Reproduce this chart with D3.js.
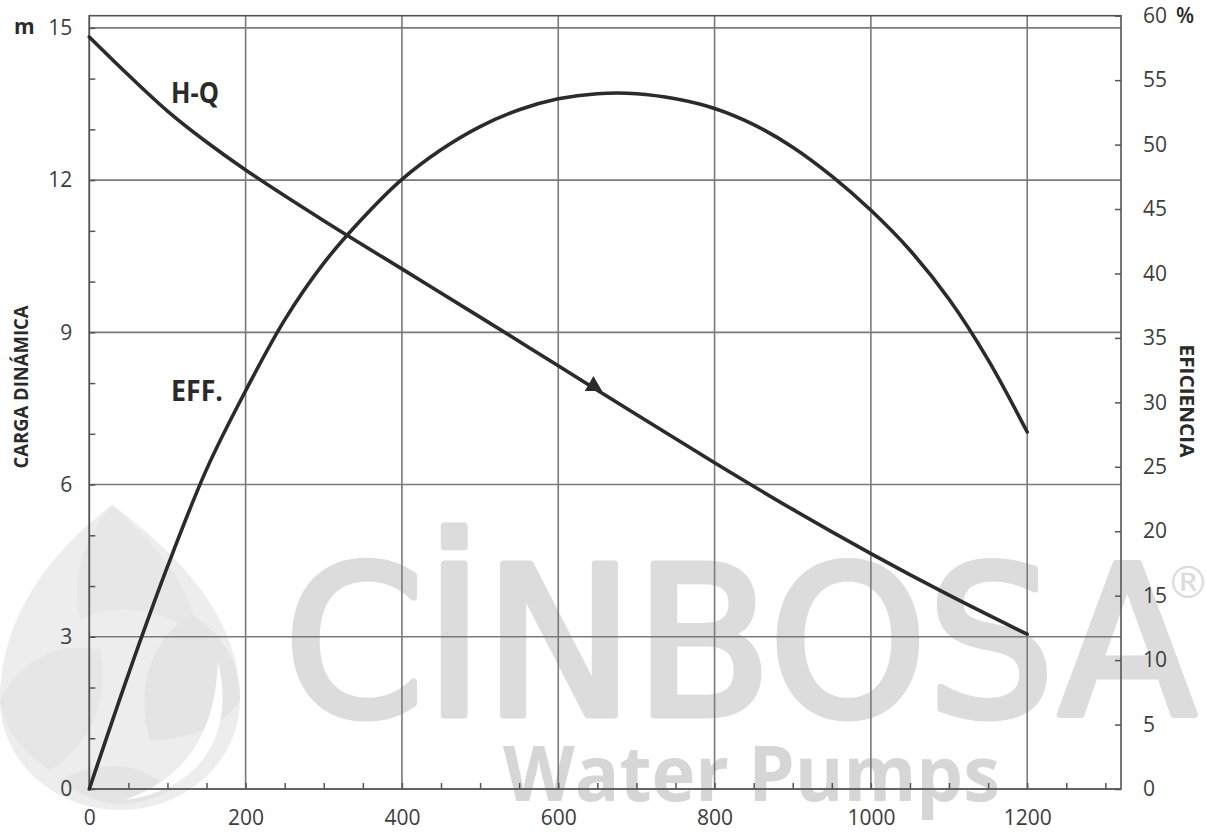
<!DOCTYPE html>
<html>
<head>
<meta charset="utf-8">
<script src="https://cdn.jsdelivr.net/npm/d3@7"></script>
<style>
  html, body { margin: 0; padding: 0; background: #ffffff; }
  svg { display: block; }
</style>
</head>
<body>
<svg id="chart" width="1206" height="834"></svg>
<script>
// ---------- data ----------
const flowHQ = [0,50,100,150,200,300,400,500,600,700,800,900,1000,1100,1200];
const head = [14.82,14.07,13.36,12.75,12.20,11.20,10.25,9.30,8.34,7.38,6.43,5.51,4.64,3.82,3.05];
const flowEff = [0,50,100,150,200,250,300,350,400,450,500,550,600,650,700,750,800,850,900,950,1000,1050,1100,1150,1200];
const efficiency = [0,8.9,17.25,24.8,30.9,36.4,40.8,44.3,47.3,49.6,51.4,52.7,53.55,53.95,53.95,53.55,52.8,51.55,49.8,47.55,44.9,41.8,38.0,33.3,27.7];
const bepFlow = [645];
const bepHead = [7.94];
const flowLabels = [0,200,400,600,800,1000,1200];
const headLabels = [0,3,6,9,12,15];
const effLabels = [0,5,10,15,20,25,30,35,40,45,50,55,60];
const headTitle = "CARGA DINÁMICA";
const effTitle = "EFICIENCIA";
const headUnit = "m";
const effUnit = "%";
const curveLabels = ["H-Q", "EFF."];

// ---------- layout ----------
const L = 89.3, R = 1121, T = 15.7, B = 789;
const svg = d3.select("#chart");

const x = d3.scaleLinear().domain([0, 1320]).range([L, R]);
const yL = d3.scaleLinear().domain([0, 15.24]).range([B, T]);
const yR = d3.scaleLinear().domain([0, 60]).range([B, T]);

// ---------- watermark ----------
const wm = svg.append("g").attr("class", "watermark");
const logo = wm.append("g");
logo.append("path")
  .attr("d", "M112,505 C170,548 240,612 240,700 A120,110 0 0 1 0,700 C0,612 56,548 112,505 Z")
  .attr("fill", "#ededed");
logo.append("path")
  .attr("d", "M112,505 C150,540 190,580 200,640 C170,610 120,600 80,620 C70,580 85,535 112,505 Z")
  .attr("fill", "#e7e7e7");
logo.append("path")
  .attr("d", "M240,700 C240,660 220,630 190,615 C150,640 135,690 150,740 C190,740 225,725 240,700 Z")
  .attr("fill", "#e4e4e4");
logo.append("path")
  .attr("d", "M0,700 C20,660 60,640 100,650 C110,700 90,745 50,770 C20,750 5,730 0,700 Z")
  .attr("fill", "#e6e6e6");
logo.append("path")
  .attr("d", "M60,780 C100,760 140,760 170,790 C140,808 100,812 60,780 Z")
  .attr("fill", "#e4e4e4");
logo.append("path")
  .attr("d", "M218,662 C236,735 200,790 125,800 C185,778 215,735 218,662 Z")
  .attr("fill", "#ffffff");

wm.append("text")
  .attr("x", 284).attr("y", 715)
  .attr("font-family", "DejaVu Sans, sans-serif")
  .attr("font-size", 206)
  .attr("fill", "#dcdcdc")
  .attr("stroke", "#dcdcdc").attr("stroke-width", 7).attr("stroke-linejoin", "round")
  .attr("textLength", 912).attr("lengthAdjust", "spacingAndGlyphs")
  .text("CİNBOSA");
wm.append("text")
  .attr("x", 1166).attr("y", 598)
  .attr("font-family", "DejaVu Sans, sans-serif")
  .attr("font-size", 44)
  .attr("fill", "#dcdcdc")
  .text("®");
wm.append("text")
  .attr("x", 503).attr("y", 801)
  .attr("font-family", "Open Sans, sans-serif")
  .attr("font-weight", 700)
  .attr("font-size", 77)
  .attr("fill", "#d6d6d6")
  .attr("textLength", 497).attr("lengthAdjust", "spacingAndGlyphs")
  .text("Water Pumps");

// ---------- grid ----------
const grid = svg.append("g").attr("stroke", "#7a7a7a").attr("stroke-width", 1.6);
grid.selectAll("line.v").data(flowLabels).join("line")
  .attr("x1", d => x(d)).attr("x2", d => x(d))
  .attr("y1", T).attr("y2", B);
grid.selectAll("line.h").data(headLabels).join("line")
  .attr("x1", L).attr("x2", R)
  .attr("y1", d => yL(d)).attr("y2", d => yL(d));

svg.append("rect")
  .attr("x", L).attr("y", T).attr("width", R - L).attr("height", B - T)
  .attr("fill", "none").attr("stroke", "#555").attr("stroke-width", 1.6);

// ---------- axes ----------
const labelFont = "Open Sans, sans-serif";
function styleAxis(g) {
  g.select(".domain").remove();
  g.selectAll(".tick line").attr("stroke", "#555").attr("stroke-width", 1.5);
  g.selectAll(".tick text").attr("font-family", labelFont).attr("font-size", 21).attr("fill", "#3d3d3d");
}
svg.append("g").attr("transform", `translate(0,${B})`)
  .call(d3.axisTop(x).tickValues(d3.range(0, 1301, 50)).tickSize(6).tickFormat(""))
  .call(styleAxis);
svg.append("g").attr("transform", `translate(${L},0)`)
  .call(d3.axisRight(yL).tickValues(d3.range(0, 16, 1)).tickSize(6).tickFormat(""))
  .call(styleAxis);
svg.append("g").attr("transform", `translate(${R},0)`)
  .call(d3.axisLeft(yR).tickValues(effLabels).tickSize(6).tickFormat(""))
  .call(styleAxis);
svg.append("g").attr("transform", `translate(0,${B})`)
  .call(d3.axisBottom(x).tickValues(flowLabels).tickSize(0).tickPadding(21).tickFormat(d3.format("d")))
  .call(styleAxis);
svg.append("g").attr("transform", `translate(${L},0)`)
  .call(d3.axisLeft(yL).tickValues(headLabels).tickSize(0).tickPadding(17).tickFormat(d3.format("d")))
  .call(styleAxis);
svg.append("g").attr("transform", `translate(${R},0)`)
  .call(d3.axisRight(yR).tickValues(effLabels).tickSize(0).tickPadding(22).tickFormat(d3.format("d")))
  .call(styleAxis);

svg.append("text").attr("x", 14).attr("y", 34)
  .attr("font-family", labelFont).attr("font-weight", 700).attr("font-size", 21)
  .attr("fill", "#2a2a2a").text(headUnit);
svg.append("text").attr("x", 1176).attr("y", 23)
  .attr("font-family", labelFont).attr("font-weight", 600).attr("font-size", 21)
  .attr("fill", "#2a2a2a").text(effUnit);

svg.append("text")
  .attr("transform", "translate(28,387) rotate(-90)")
  .attr("text-anchor", "middle")
  .attr("font-family", labelFont).attr("font-weight", 700).attr("font-size", 20)
  .attr("fill", "#2a2a2a")
  .attr("textLength", 163).attr("lengthAdjust", "spacingAndGlyphs")
  .text(headTitle);
svg.append("text")
  .attr("transform", "translate(1180,401) rotate(90)")
  .attr("text-anchor", "middle")
  .attr("font-family", labelFont).attr("font-weight", 700).attr("font-size", 20)
  .attr("fill", "#2a2a2a")
  .attr("textLength", 113).attr("lengthAdjust", "spacingAndGlyphs")
  .text(effTitle);

// ---------- curves ----------
const hq = flowHQ.map((q, i) => [q, head[i]]);
const ef = flowEff.map((q, i) => [q, efficiency[i]]);

svg.append("path").datum(hq)
  .attr("d", d3.line().x(d => x(d[0])).y(d => yL(d[1])).curve(d3.curveCatmullRom.alpha(0.5)))
  .attr("fill", "none").attr("stroke", "#2b2b2b").attr("stroke-width", 3.6)
  .attr("stroke-linecap", "round");
svg.append("path").datum(ef)
  .attr("d", d3.line().x(d => x(d[0])).y(d => yR(d[1])).curve(d3.curveCatmullRom.alpha(0.5)))
  .attr("fill", "none").attr("stroke", "#2b2b2b").attr("stroke-width", 3.6)
  .attr("stroke-linecap", "round");

svg.selectAll("path.bep").data(bepFlow).join("path")
  .attr("class", "bep")
  .attr("transform", (d, i) => `translate(${x(d)},${yL(bepHead[i])})`)
  .attr("d", d3.symbol(d3.symbolTriangle).size(130))
  .attr("fill", "#2b2b2b");

svg.append("text").attr("x", 171).attr("y", 103)
  .attr("font-family", labelFont).attr("font-weight", 700).attr("font-size", 29)
  .attr("fill", "#2a2a2a")
  .attr("textLength", 48).attr("lengthAdjust", "spacingAndGlyphs")
  .text(curveLabels[0]);
svg.append("text").attr("x", 171).attr("y", 401)
  .attr("font-family", labelFont).attr("font-weight", 700).attr("font-size", 29)
  .attr("fill", "#2a2a2a")
  .attr("textLength", 52).attr("lengthAdjust", "spacingAndGlyphs")
  .text(curveLabels[1]);
</script>
</body>
</html>
